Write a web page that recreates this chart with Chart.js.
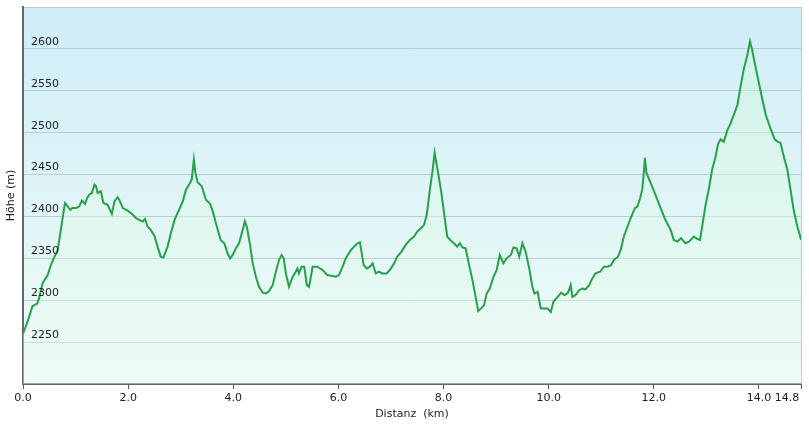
<!DOCTYPE html>
<html>
<head>
<meta charset="utf-8">
<script src="https://cdn.jsdelivr.net/npm/chart.js@4"></script>
<style>
  body { margin: 0; background: #fff; }
</style>
</head>
<body>
<canvas id="profil" width="809" height="427"></canvas>
<script>
// Höhenprofil der Tour: Distanz (km) und Höhe (m)
const distanz = [
  0.00, 0.09, 0.18, 0.27, 0.31, 0.37, 0.47, 0.53, 0.60, 0.66, 0.72, 0.77, 0.80, 0.85, 0.90, 0.94,
  1.01, 1.07, 1.12, 1.18, 1.22, 1.26, 1.31, 1.36, 1.39, 1.42, 1.48, 1.53, 1.61, 1.69, 1.74, 1.80,
  1.83, 1.90, 1.99, 2.09, 2.15, 2.21, 2.28, 2.32, 2.37, 2.43, 2.50, 2.56, 2.62, 2.67, 2.75, 2.83,
  2.89, 2.94, 2.97, 3.04, 3.10, 3.16, 3.21, 3.25, 3.28, 3.32, 3.40, 3.48, 3.56, 3.61, 3.67, 3.76,
  3.83, 3.89, 3.94, 3.99, 4.05, 4.11, 4.18, 4.22, 4.26, 4.32, 4.37, 4.43, 4.49, 4.56, 4.62, 4.68,
  4.75, 4.81, 4.87, 4.92, 4.96, 5.00, 5.06, 5.13, 5.19, 5.22, 5.25, 5.30, 5.35, 5.40, 5.44, 5.51,
  5.60, 5.70, 5.79, 5.89, 5.95, 6.01, 6.08, 6.14, 6.24, 6.30, 6.36, 6.41, 6.48, 6.54, 6.60, 6.65,
  6.71, 6.77, 6.84, 6.92, 7.00, 7.06, 7.12, 7.20, 7.28, 7.36, 7.44, 7.50, 7.57, 7.63, 7.68, 7.74,
  7.79, 7.83, 7.88, 7.95, 8.01, 8.07, 8.14, 8.20, 8.26, 8.31, 8.36, 8.42, 8.48, 8.55, 8.61, 8.66,
  8.71, 8.77, 8.82, 8.88, 8.95, 9.01, 9.07, 9.14, 9.20, 9.28, 9.33, 9.39, 9.44, 9.50, 9.56, 9.63,
  9.69, 9.73, 9.79, 9.85, 9.91, 9.98, 10.04, 10.09, 10.17, 10.24, 10.30, 10.37, 10.42, 10.45, 10.51, 10.58,
  10.64, 10.70, 10.77, 10.83, 10.89, 10.98, 11.05, 11.12, 11.19, 11.24, 11.32, 11.37, 11.43, 11.50, 11.56, 11.64,
  11.69, 11.74, 11.78, 11.81, 11.83, 11.86, 11.94, 12.03, 12.13, 12.22, 12.32, 12.38, 12.45, 12.52, 12.60, 12.67,
  12.76, 12.83, 12.88, 12.92, 12.98, 13.05, 13.11, 13.17, 13.22, 13.27, 13.33, 13.40, 13.46, 13.52, 13.59, 13.65,
  13.71, 13.78, 13.83, 13.87, 13.94, 14.00, 14.06, 14.13, 14.22, 14.30, 14.36, 14.41, 14.47, 14.54, 14.60, 14.66,
  14.73, 14.79, 14.80
];
const hoehe = [
  2260, 2275, 2293, 2296, 2303, 2320, 2330, 2342, 2352, 2360, 2384, 2405, 2416, 2412, 2408, 2410,
  2410, 2412, 2419, 2415, 2422, 2426, 2428, 2438, 2436, 2428, 2430, 2416, 2414, 2403, 2418, 2423,
  2420, 2410, 2407, 2402, 2398, 2396, 2394, 2397, 2388, 2384, 2377, 2364, 2352, 2351, 2364, 2384,
  2397, 2404, 2408, 2418, 2432, 2438, 2444, 2468, 2452, 2441, 2436, 2420, 2415, 2406, 2392, 2372,
  2368, 2356, 2350, 2354, 2362, 2368, 2384, 2394, 2387, 2366, 2344, 2328, 2316, 2309, 2308, 2311,
  2318, 2334, 2348, 2354, 2350, 2332, 2316, 2328, 2334, 2338, 2332, 2340, 2340, 2318, 2316, 2340,
  2340, 2336, 2330, 2329, 2328, 2330, 2340, 2350, 2360, 2364, 2368, 2369, 2342, 2338, 2340, 2344,
  2332, 2334, 2332, 2332, 2338, 2344, 2352, 2358, 2366, 2372, 2376, 2382, 2386, 2390, 2402, 2432,
  2454, 2476, 2458, 2432, 2404, 2376, 2371, 2368, 2364, 2368, 2363, 2362, 2344, 2324, 2304, 2287,
  2290, 2294, 2308, 2314, 2328, 2336, 2354, 2344, 2350, 2354, 2363, 2362, 2352, 2368, 2358, 2338,
  2316, 2308, 2310, 2290, 2290, 2290, 2286, 2298, 2304, 2309, 2306, 2309, 2318, 2304, 2306, 2312,
  2314, 2313, 2318, 2326, 2332, 2334, 2340, 2340, 2342, 2348, 2352, 2360, 2376, 2388, 2398, 2410,
  2412, 2422, 2432, 2452, 2470, 2452, 2440, 2426, 2410, 2396, 2384, 2372, 2370, 2374, 2368, 2370,
  2376, 2373, 2372, 2388, 2412, 2434, 2456, 2470, 2486, 2492, 2489, 2503, 2511, 2521, 2533, 2555,
  2575, 2593, 2609, 2599, 2577, 2559, 2541, 2521, 2505, 2492, 2489, 2488, 2472, 2456, 2432, 2408,
  2388, 2375, 2372
];
// Achsen
const xTicks = [0, 2, 4, 6, 8, 10, 12, 14, 14.8];
const yMin = 2200, yMax = 2650, yStep = 50;

const FONT = 'DejaVu Sans, Verdana, sans-serif';

// Hintergrund im Diagrammbereich (blau oben, grünlich unten)
const hintergrund = {
  id: 'hintergrund',
  beforeDraw(chart) {
    const { ctx, chartArea: a } = chart;
    const g = ctx.createLinearGradient(0, a.top, 0, a.bottom);
    g.addColorStop(0, '#cfedf8');
    g.addColorStop(1, '#effcf6');
    ctx.save();
    ctx.fillStyle = g;
    ctx.fillRect(a.left, a.top, a.right - a.left, a.bottom - a.top);
    ctx.restore();
  },
  afterDraw(chart) {
    // rechter Rahmen
    const { ctx, chartArea: a } = chart;
    ctx.save();
    ctx.strokeStyle = '#c4c8ca';
    ctx.lineWidth = 1;
    ctx.beginPath();
    ctx.moveTo(a.right + 0.5, a.top);
    ctx.lineTo(a.right + 0.5, a.bottom);
    ctx.stroke();
    ctx.restore();
  }
};

const ctx = document.getElementById('profil').getContext('2d');
const profil = new Chart(ctx, {
  type: 'line',
  data: {
    datasets: [{
      label: 'Höhe',
      data: distanz.map((d, i) => ({ x: d, y: hoehe[i] })),
      borderColor: '#27a04a',
      borderWidth: 2,
      pointRadius: 0,
      tension: 0,
      fill: 'start',
      backgroundColor: (c) => {
        const a = c.chart.chartArea;
        if (!a) return 'rgba(200,240,215,0.4)';
        const g = c.chart.ctx.createLinearGradient(0, a.top, 0, a.bottom);
        g.addColorStop(0, 'rgba(205,245,220,0.55)');
        g.addColorStop(1, 'rgba(235,252,242,0.4)');
        return g;
      }
    }]
  },
  options: {
    responsive: false,
    animation: false,
    layout: { padding: { top: 7, right: 8, left: 0, bottom: 0 } },
    plugins: {
      legend: { display: false },
      tooltip: { enabled: false }
    },
    scales: {
      x: {
        type: 'linear',
        min: 0,
        max: 14.8,
        afterBuildTicks: (s) => { s.ticks = xTicks.map(v => ({ value: v })); },
        afterFit: (s) => { s.height = 43; s.paddingLeft = 0; s.paddingRight = 0; },
        grid: { drawOnChartArea: false, drawTicks: true, tickLength: 5, color: '#555', lineWidth: 1 },
        border: { display: true, color: '#666', width: 2 },
        ticks: {
          color: '#222',
          font: { family: FONT, size: 11 },
          padding: 3,
          maxRotation: 0,
          autoSkip: false,
          // letzte Beschriftung etwas nach links rücken (Figure-Spaces)
          callback: (v) => v === 14.8 ? '14.8\u2007\u2007\u2007\u2007' : Number(v).toFixed(1)
        },
        title: {
          display: true,
          text: 'Distanz  (km)',
          color: '#222',
          font: { family: FONT, size: 11 },
          padding: { top: 0, bottom: 6 }
        }
      },
      y: {
        min: yMin,
        max: yMax,
        afterFit: (s) => { s.width = 23; s.paddingTop = 0; s.paddingBottom = 0; },
        grid: { drawTicks: false, color: '#bccbd0', lineWidth: 1 },
        border: { display: true, color: '#666', width: 2 },
        ticks: {
          z: 1, // Beschriftung über der Fläche
          stepSize: yStep,
          mirror: true,
          padding: 8,
          labelOffset: -7,
          color: '#222',
          font: { family: FONT, size: 11 },
          callback: (v) => (v === yMin || v === yMax) ? '' : v
        },
        title: {
          display: true,
          text: 'Höhe (m)',
          color: '#222',
          font: { family: FONT, size: 11 },
          padding: { top: 5, bottom: 0 }
        }
      }
    }
  },
  plugins: [hintergrund]
});
</script>
</body>
</html>
